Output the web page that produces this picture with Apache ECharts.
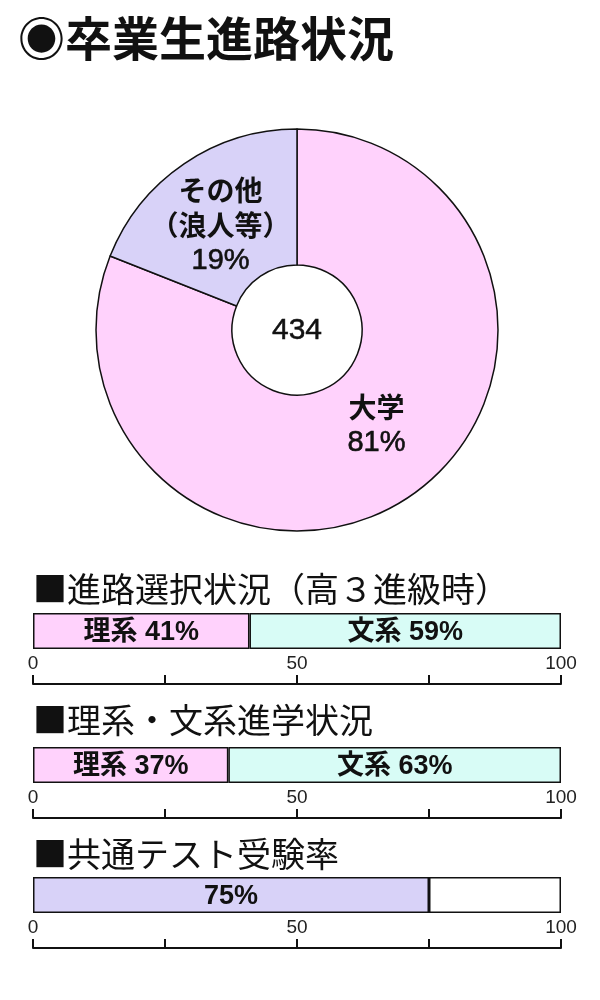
<!DOCTYPE html>
<html><head><meta charset="utf-8">
<script src="https://cdn.jsdelivr.net/npm/echarts@6/dist/echarts.min.js"></script>
<style>html,body{margin:0;padding:0;background:#fff}#c{width:600px;height:1000px}</style>
</head><body><div id="c"></div>
<script>
// ---- data ----
const pieNames = ['大学', 'その他\n（浪人等）'];
const pieValues = [81, 19];
const totalGraduates = 434;

const course1Names = ['理系', '文系'];
const course1Values = [41, 59];
const course2Names = ['理系', '文系'];
const course2Values = [37, 63];
const testRate = 75;

const axisLabels = ['0', '50', '100'];

const sectionTitles = ['■進路選択状況（高３進級時）', '■理系・文系進学状況', '■共通テスト受験率'];
const mainTitle = '◉卒業生進路状況';

// ---- styles ----
const PINK = '#FFD2FC', CYAN = '#D8FCF6', LAV = '#D8D2F8';
const FONT = '"Noto Sans CJK JP", "Noto Sans", sans-serif';
const NUMFONT = '"Liberation Sans", Arial, sans-serif';
const MIXFONT = '"Liberation Sans", "Noto Sans CJK JP", sans-serif';
const pieLabelOffsets = [[3, -17], [0, 8]];

const chart = echarts.init(document.getElementById('c'), null, {renderer: 'canvas'});

const barTops = [613, 747, 877];
const barH = 36;
const axisOffset = 35;

function makeGrid(i) {
  return {left: 33, right: 39, top: barTops[i], height: barH, containLabel: false};
}
function makeX(i) {
  return {
    type: 'value', gridIndex: i, min: 0, max: 100, interval: 25,
    position: 'bottom', offset: axisOffset,
    axisLine: {show: true, lineStyle: {color: '#111', width: 2}},
    axisTick: {show: true, inside: true, length: 9, lineStyle: {color: '#111', width: 2}},
    axisLabel: {
      show: true, inside: true, margin: 11, fontSize: 19, color: '#222',
      fontFamily: NUMFONT,
      formatter: v => axisLabels.indexOf(String(v)) >= 0 ? String(v) : ''
    },
    splitLine: {show: false}
  };
}
function makeY(i) {
  return {type: 'category', gridIndex: i, data: [''], show: false};
}
function barLabel(name, value) {
  const txt = (name ? name + ' ' : '') + value + '%';
  return {show: true, position: 'inside', offset: [0, 2], formatter: txt,
    fontSize: 27, fontWeight: 'bold', color: '#111', fontFamily: MIXFONT};
}
function barSeries(gi, name, value, color, showLabel, labelName) {
  return {
    type: 'bar', xAxisIndex: gi, yAxisIndex: gi, stack: 's' + gi,
    barCategoryGap: '0%', barWidth: barH,
    data: [value], name: name,
    itemStyle: {color: color, borderColor: '#111', borderWidth: 1.5},
    label: showLabel ? barLabel(labelName, value) : {show: false},
    silent: true, animation: false
  };
}

const titleYs = [588, 719, 853];

const option = {
  backgroundColor: '#fff',
  animation: false,
  title: [
    {text: mainTitle, left: 13, top: 10, textStyle: {fontSize: 47, fontWeight: 'bold', color: '#111', fontFamily: FONT}},
  ].concat(sectionTitles.map((t, i) => ({
    text: t, left: 28, top: titleYs[i] - 21,
    textStyle: {fontSize: 34, fontWeight: 'normal', color: '#111', fontFamily: FONT}
  }))),
  grid: [0, 1, 2].map(makeGrid),
  xAxis: [0, 1, 2].map(makeX),
  yAxis: [0, 1, 2].map(makeY),
  graphic: [{
    type: 'text', x: 297, y: 331, z: 100,
    style: {text: String(totalGraduates), align: 'center', verticalAlign: 'middle',
      fontSize: 30, fontFamily: NUMFONT, fill: '#111', stroke: '#111', lineWidth: 0.5}
  }],
  series: [
    {
      type: 'pie', center: [297, 330], radius: [65, 201], startAngle: 90, clockwise: true,
      silent: true, animation: false,
      data: pieNames.map((n, i) => ({name: n, value: pieValues[i], label: {offset: pieLabelOffsets[i]}})),
      color: [PINK, LAV],
      itemStyle: {borderColor: '#111', borderWidth: 1.5},
      label: {
        show: true, position: 'inner', color: '#111',
        formatter: p => p.name.split('\n').map(s => '{c|' + s + '}').join('\n') + '\n{n|' + p.value + '%}',
        rich: {
          c: {fontSize: 28, fontWeight: 'bold', color: '#111', fontFamily: FONT, lineHeight: 35},
          n: {fontSize: 29, fontWeight: 'normal', color: '#111', fontFamily: NUMFONT, lineHeight: 36,
              textBorderColor: '#111', textBorderWidth: 0.6}
        }
      },
      labelLine: {show: false}
    },
    barSeries(0, course1Names[0], course1Values[0], PINK, true, course1Names[0]),
    barSeries(0, course1Names[1], course1Values[1], CYAN, true, course1Names[1]),
    barSeries(1, course2Names[0], course2Values[0], PINK, true, course2Names[0]),
    barSeries(1, course2Names[1], course2Values[1], CYAN, true, course2Names[1]),
    barSeries(2, '受験', testRate, LAV, true, ''),
    barSeries(2, '未受験', 100 - testRate, '#fff', false, '')
  ]
};
chart.setOption(option);
</script>
</body></html>
